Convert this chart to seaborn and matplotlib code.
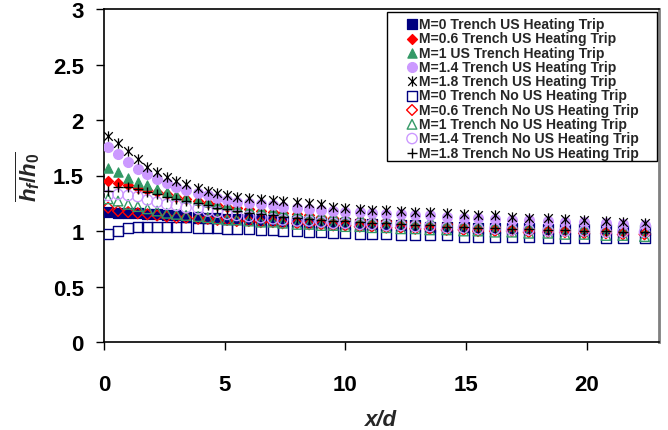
import matplotlib
matplotlib.use("Agg")
import matplotlib.pyplot as plt
import matplotlib.patches as mpatches
from matplotlib.markers import MarkerStyle
from matplotlib.path import Path
import seaborn as sns

# x/d stations
x_d = [0.17, 0.58, 1.0, 1.4, 1.8, 2.2, 2.6, 3.0, 3.4, 3.9, 4.3, 4.7, 5.1, 5.5,
       6.0, 6.5, 7.0, 7.4, 8.0, 8.5, 9.0, 9.5, 10.0, 10.6, 11.1, 11.7, 12.3,
       12.9, 13.5, 14.2, 14.9, 15.5, 16.2, 16.9, 17.6, 18.4, 19.1, 19.9, 20.8,
       21.5, 22.4]

# with upstream heating trip
m0_us = [1.17, 1.16, 1.16, 1.16, 1.15, 1.15, 1.14, 1.14, 1.13, 1.13, 1.12, 1.12,
         1.11, 1.11, 1.11, 1.10, 1.10, 1.09, 1.09, 1.08, 1.08, 1.07, 1.07, 1.06,
         1.06, 1.05, 1.05, 1.05, 1.04, 1.04, 1.04, 1.03, 1.03, 1.03, 1.03, 1.02,
         1.02, 1.02, 1.02, 1.01, 1.01]
m06_us = [1.45, 1.43, 1.41, 1.39, 1.37, 1.35, 1.33, 1.31, 1.29, 1.27, 1.25, 1.23,
          1.22, 1.21, 1.20, 1.18, 1.17, 1.16, 1.15, 1.14, 1.13, 1.12, 1.11, 1.10,
          1.09, 1.09, 1.08, 1.07, 1.06, 1.06, 1.05, 1.04, 1.04, 1.03, 1.02, 1.02,
          1.01, 1.00, 1.00, 0.99, 0.98]
m1_us = [1.57, 1.53, 1.48, 1.44, 1.41, 1.38, 1.35, 1.32, 1.30, 1.28, 1.26, 1.24,
         1.23, 1.22, 1.21, 1.20, 1.19, 1.18, 1.17, 1.16, 1.15, 1.14, 1.14, 1.13,
         1.12, 1.12, 1.11, 1.10, 1.10, 1.09, 1.08, 1.08, 1.07, 1.07, 1.06, 1.06,
         1.05, 1.05, 1.04, 1.03, 1.03]
m14_us = [1.76, 1.69, 1.62, 1.56, 1.51, 1.47, 1.43, 1.40, 1.37, 1.34, 1.32, 1.30,
          1.28, 1.26, 1.25, 1.24, 1.23, 1.22, 1.21, 1.20, 1.19, 1.18, 1.17, 1.17,
          1.16, 1.15, 1.15, 1.14, 1.14, 1.13, 1.12, 1.12, 1.11, 1.10, 1.10, 1.09,
          1.08, 1.08, 1.07, 1.06, 1.05]
m18_us = [1.86, 1.79, 1.72, 1.65, 1.58, 1.53, 1.49, 1.45, 1.42, 1.39, 1.36, 1.34,
          1.32, 1.31, 1.30, 1.29, 1.28, 1.27, 1.26, 1.25, 1.24, 1.22, 1.21, 1.20,
          1.19, 1.19, 1.18, 1.17, 1.17, 1.16, 1.15, 1.14, 1.14, 1.13, 1.12, 1.12,
          1.11, 1.10, 1.09, 1.08, 1.07]

# without upstream heating trip
m0_no = [0.97, 1.00, 1.03, 1.04, 1.04, 1.04, 1.04, 1.04, 1.04, 1.03, 1.03, 1.03,
         1.02, 1.02, 1.02, 1.01, 1.01, 1.00, 1.00, 0.99, 0.99, 0.98, 0.98, 0.97,
         0.97, 0.97, 0.96, 0.96, 0.96, 0.96, 0.95, 0.95, 0.95, 0.95, 0.95, 0.94,
         0.94, 0.94, 0.94, 0.94, 0.94]
m06_no = [1.21, 1.18, 1.17, 1.16, 1.15, 1.14, 1.13, 1.12, 1.12, 1.11, 1.11, 1.10,
          1.10, 1.09, 1.09, 1.08, 1.08, 1.07, 1.07, 1.06, 1.06, 1.05, 1.05, 1.04,
          1.04, 1.03, 1.03, 1.02, 1.02, 1.01, 1.01, 1.00, 1.00, 1.00, 0.99, 0.99,
          0.99, 0.98, 0.98, 0.97, 0.97]
m1_no = [1.29, 1.27, 1.24, 1.22, 1.20, 1.18, 1.16, 1.15, 1.14, 1.13, 1.12, 1.11,
         1.10, 1.10, 1.09, 1.08, 1.08, 1.07, 1.06, 1.06, 1.05, 1.05, 1.04, 1.04,
         1.03, 1.03, 1.02, 1.02, 1.01, 1.01, 1.00, 1.00, 0.99, 0.99, 0.98, 0.98,
         0.97, 0.97, 0.96, 0.96, 0.95]
m14_no = [1.32, 1.33, 1.32, 1.31, 1.28, 1.26, 1.24, 1.23, 1.21, 1.20, 1.18, 1.17,
          1.15, 1.14, 1.13, 1.12, 1.11, 1.10, 1.09, 1.09, 1.08, 1.07, 1.07, 1.06,
          1.06, 1.05, 1.05, 1.04, 1.04, 1.03, 1.03, 1.02, 1.02, 1.01, 1.01, 1.00,
          1.00, 1.00, 0.99, 0.99, 0.99]
m18_no = [1.36, 1.40, 1.40, 1.38, 1.35, 1.33, 1.31, 1.29, 1.27, 1.25, 1.23, 1.21,
          1.20, 1.18, 1.16, 1.15, 1.14, 1.13, 1.12, 1.11, 1.10, 1.09, 1.09, 1.08,
          1.07, 1.07, 1.06, 1.05, 1.05, 1.04, 1.04, 1.03, 1.03, 1.02, 1.02, 1.01,
          1.01, 1.00, 1.00, 0.99, 0.99]

labels = ["M=0 Trench US Heating Trip", "M=0.6 Trench US Heating Trip",
          "M=1 US Trench Heating Trip", "M=1.4 Trench US Heating Trip",
          "M=1.8 Trench US Heating Trip", "M=0 Trench No US Heating Trip",
          "M=0.6 Trench No US Heating Trip", "M=1 Trench No US Heating Trip",
          "M=1.4 Trench No US Heating Trip", "M=1.8 Trench No US Heating Trip"]

NAVY = "#000080"
RED = "#FF0000"
GREEN = "#339966"
PURPLE = "#CC99FF"
BLACK = "#000000"

# asterisk marker (x with a vertical bar), like Excel's "*"
star = Path([(-1, -1), (1, 1), (-1, 1), (1, -1), (0, -1.2), (0, 1.2)],
            [Path.MOVETO, Path.LINETO, Path.MOVETO, Path.LINETO, Path.MOVETO, Path.LINETO])


def hollow(m):
    return MarkerStyle(m, fillstyle="none")


sns.set_style("ticks")
plt.rcParams["font.family"] = ["Liberation Sans", "DejaVu Sans"]
plt.rcParams["font.weight"] = "bold"
plt.rcParams["mathtext.fontset"] = "custom"
plt.rcParams["mathtext.it"] = "Liberation Sans:italic:bold"
plt.rcParams["mathtext.rm"] = "Liberation Sans:bold"
plt.rcParams["mathtext.bf"] = "Liberation Sans:bold"

fig = plt.figure(figsize=(6.68, 4.31), dpi=100)
ax = fig.add_axes([104 / 668, 1 - 343 / 431, (659 - 104) / 668, (343 - 10) / 431])

series = [
    (m0_us, "s", 44, NAVY, True),
    (m06_us, "D", 26, RED, True),
    (m1_us, "^", 44, GREEN, True),
    (m14_us, "o", 50, PURPLE, True),
    (m18_us, star, 55, BLACK, True),
    (m0_no, hollow("s"), 52, NAVY, False),
    (m06_no, hollow("D"), 30, RED, False),
    (m1_no, hollow("^"), 48, GREEN, False),
    (m14_no, hollow("o"), 55, PURPLE, False),
    (m18_no, "+", 60, BLACK, False),
]

for (vals, mk, size, col, filled), lab in zip(series, labels):
    if filled:
        sns.scatterplot(x=x_d, y=vals, marker=mk, s=size, color=col,
                        edgecolor=col, linewidth=0.9, ax=ax, label=lab, zorder=3)
    else:
        sns.scatterplot(x=x_d, y=vals, marker=mk, s=size, color=col,
                        linewidth=1.0, ax=ax, label=lab, zorder=3)

ax.set_xlim(0, 23)
ax.set_ylim(0, 3)
ax.set_xticks([0, 5, 10, 15, 20])
ax.set_yticks([0, 0.5, 1, 1.5, 2, 2.5, 3])
ax.set_yticklabels(["0", "0.5", "1", "1.5", "2", "2.5", "3"])
ax.tick_params(axis="y", direction="out", length=6, width=1, pad=8.5,
               labelsize=16, colors="black")
ax.tick_params(axis="x", direction="out", length=6, width=1, pad=17,
               labelsize=16, colors="black")
for t in ax.get_xticklabels() + ax.get_yticklabels():
    t.set_fontweight("bold")

for side in ["left", "bottom", "top"]:
    ax.spines[side].set_color("black")
    ax.spines[side].set_linewidth(1.2)
ax.spines["right"].set_color("#808080")
ax.spines["right"].set_linewidth(2)

ax.set_xlabel("x/d", fontsize=16, fontweight="bold", fontstyle="italic", labelpad=10)
ax.set_ylabel(r"$\overline{h_f/h_0}$", fontsize=16, labelpad=8)

handles, labs = ax.get_legend_handles_labels()
leg = ax.legend(handles, labs, loc="upper left", frameon=False,
                bbox_to_anchor=(405 / 668, 1 - 18 / 431),
                bbox_transform=fig.transFigure, borderpad=0, borderaxespad=0,
                handlelength=1.0, handletextpad=0.0, labelspacing=0.02,
                scatterpoints=1, prop={"size": 10.1, "weight": "bold"})
fig.patches.append(mpatches.Rectangle((387 / 668, 1 - 162 / 431), 270 / 668, 149 / 431,
                                      transform=fig.transFigure, fill=False,
                                      edgecolor="black", linewidth=1.0, zorder=5))

fig.savefig("out.png", dpi=100)
